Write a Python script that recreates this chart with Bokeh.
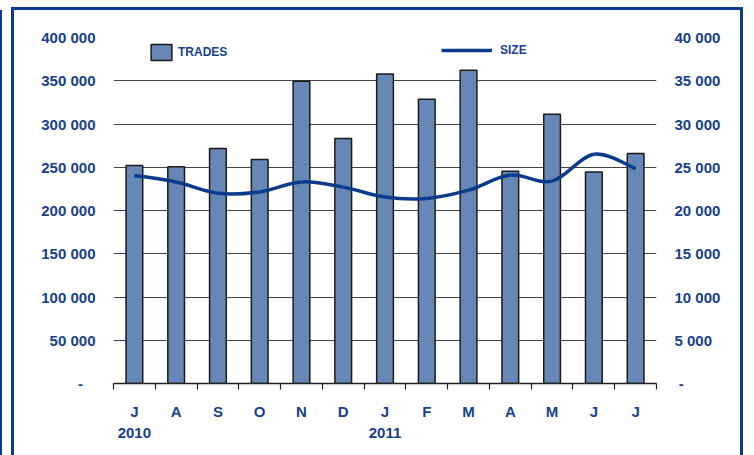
from bokeh.plotting import figure
from bokeh.models import (Range1d, LinearAxis, FixedTicker, Legend, LegendItem,
                          ColumnDataSource)
from bokeh.embed import file_html
from bokeh.resources import INLINE

# ---- data ----
months = ["J", "A", "S", "O", "N", "D", "J", "F", "M", "A", "M", "J", "J"]
years = ["2010", "", "", "", "", "", "2011", "", "", "", "", "", ""]
trades = [252000, 250500, 271700, 259000, 349500, 283300, 357700, 328700, 362000,
          245400, 311200, 244500, 265800]
size = [24050, 23300, 22000, 22150, 23300, 22700, 21550, 21400, 22350, 24100,
        23400, 26500, 24850]
left_ticks = [0, 50000, 100000, 150000, 200000, 250000, 300000, 350000, 400000]
right_ticks = [0, 5000, 10000, 15000, 20000, 25000, 30000, 35000, 40000]

TXT = "#17418C"
BAR = "#6787B6"
LINE = "#0B3C8C"
FONT = "Liberation Sans"

def fmt(v):
    return "{:,}".format(v).replace(",", " ") if v else "-"

n = len(months)
xc = [i + 0.5 for i in range(n)]

p = figure(width=726, height=445, output_backend="svg", toolbar_location=None,
           x_range=Range1d(0, n), y_range=Range1d(0, 400000),
           min_border_left=99, min_border_right=84, min_border_top=27,
           min_border_bottom=72)
p.margin = (10, 0, 0, 14)
p.styles = {"outline": "3px solid #0B3C8C",
            "box-shadow": "-12px 0 0 0 white, -14px 0 0 0 #0B3C8C"}
p.outline_line_color = None
p.background_fill_color = "white"
p.border_fill_color = "white"
p.xgrid.visible = False
p.ygrid.ticker = FixedTicker(ticks=left_ticks)
p.ygrid.grid_line_color = "#444444"
p.ygrid.grid_line_width = 1

p.extra_y_ranges = {"size": Range1d(0, 40000)}

# bars
src = ColumnDataSource(dict(x=xc, trades=trades))
bars = p.vbar(x="x", top="trades", width=0.4, source=src, fill_color=BAR,
              line_color="#1a1a1a", line_width=1.5)

# smooth line via Catmull-Rom -> bezier from the data
pts = list(zip(xc, size))
x0, y0, x1, y1, cx0, cy0, cx1, cy1 = [], [], [], [], [], [], [], []
for i in range(n - 1):
    pm = pts[i - 1] if i > 0 else pts[i]
    p0 = pts[i]
    p1 = pts[i + 1]
    p2 = pts[i + 2] if i + 2 < n else pts[i + 1]
    x0.append(p0[0]); y0.append(p0[1]); x1.append(p1[0]); y1.append(p1[1])
    cx0.append(p0[0] + (p1[0] - pm[0]) / 6); cy0.append(p0[1] + (p1[1] - pm[1]) / 6)
    cx1.append(p1[0] - (p2[0] - p0[0]) / 6); cy1.append(p1[1] - (p2[1] - p0[1]) / 6)
curve = p.bezier(x0=x0, y0=y0, x1=x1, y1=y1, cx0=cx0, cy0=cy0, cx1=cx1, cy1=cy1,
                 line_color=LINE, line_width=3.5, y_range_name="size")

# axes
p.yaxis.ticker = FixedTicker(ticks=left_ticks)
p.yaxis.major_label_overrides = {v: (fmt(v) if v else "-\u00a0\u00a0\u00a0") for v in left_ticks}
ra = LinearAxis(y_range_name="size", ticker=FixedTicker(ticks=right_ticks))
ra.major_label_overrides = {v: (fmt(v) if v else "\u00a0-") for v in right_ticks}
p.add_layout(ra, "right")
for ax in (p.yaxis[0], ra):
    ax.axis_line_color = None
    ax.major_tick_line_color = None
    ax.minor_tick_line_color = None
    ax.major_tick_out = 0
    ax.minor_tick_out = 0
    ax.major_label_standoff = 18
    ax.major_label_text_font = FONT
    ax.major_label_text_font_style = "bold"
    ax.major_label_text_font_size = "15px"
    ax.major_label_text_color = TXT

xa = p.xaxis[0]
xa.ticker = FixedTicker(ticks=xc, minor_ticks=list(range(n + 1)))
xa.major_label_overrides = {c: (m + "\n" + y if y else m) for c, m, y in zip(xc, months, years)}
xa.axis_line_color = "#222222"
xa.axis_line_width = 1.5
xa.major_tick_line_color = None
xa.major_tick_out = 0
xa.minor_tick_line_color = "#222222"
xa.minor_tick_line_width = 1.2
xa.minor_tick_in = 0
xa.minor_tick_out = 6
xa.major_label_standoff = 13
xa.major_label_text_font = FONT
xa.major_label_text_font_style = "bold"
xa.major_label_text_font_size = "15px"
xa.major_label_text_color = TXT
xa.major_label_text_line_height = 1.25

# legends (location in frame pixels from lower-left)
lg1 = Legend(items=[LegendItem(label="TRADES", renderers=[bars])], location=(35, 321),
             glyph_width=26, glyph_height=20, label_height=20, label_standoff=4)
lg2 = Legend(items=[LegendItem(label="SIZE", renderers=[curve])], location=(328, 325),
             glyph_width=51, glyph_height=16, label_height=16, label_standoff=8)
for lg in (lg1, lg2):
    lg.border_line_color = None
    lg.background_fill_alpha = 0
    lg.label_text_font = FONT
    lg.label_text_font_style = "bold"
    lg.label_text_font_size = "12px"
    lg.label_text_color = TXT
    lg.padding = 0
    lg.margin = 0
    p.add_layout(lg, "center")

open("out.html", "w").write(file_html(p, INLINE))
